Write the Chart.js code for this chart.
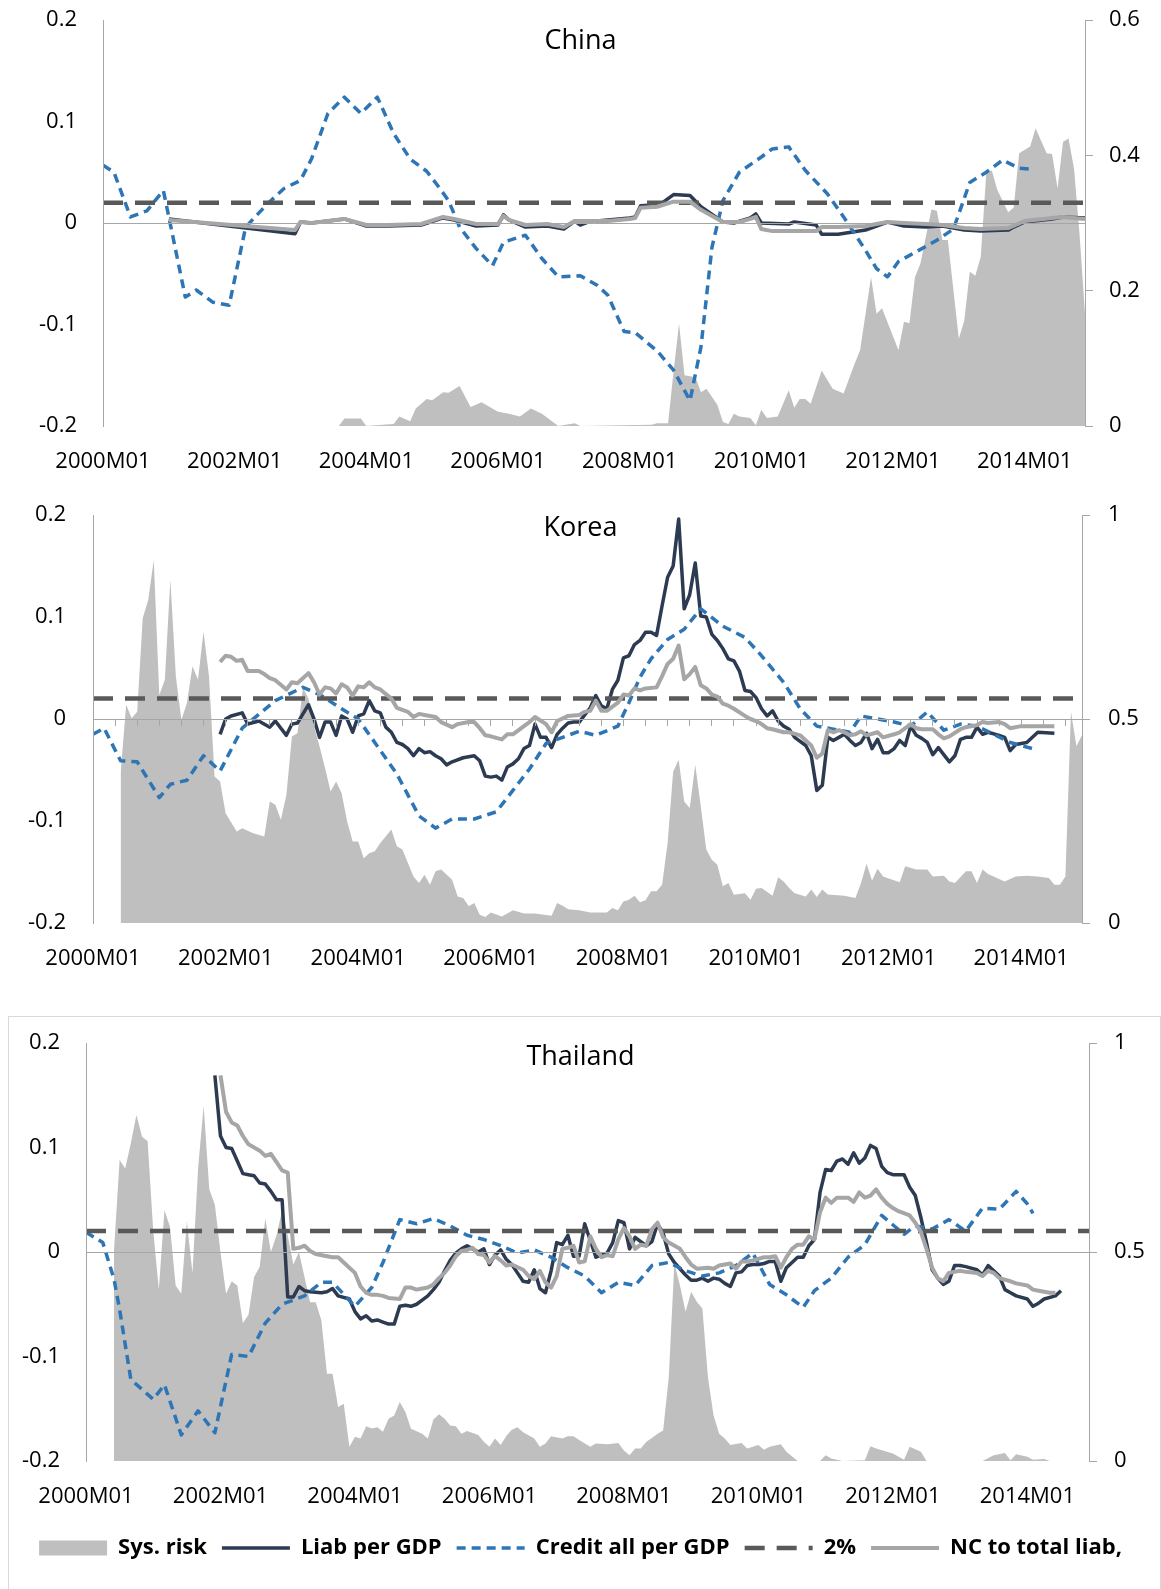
<!DOCTYPE html>
<html>
<head>
<meta charset="utf-8">
<script src="https://cdn.jsdelivr.net/npm/chart.js@4.4.0/dist/chart.umd.min.js"></script>
<style>
body { margin: 0; background: #fff; width: 1161px; height: 1589px; position: relative; overflow: hidden; }
canvas { position: absolute; left: 0; }
#frame { position: absolute; left: 8px; top: 1016px; width: 1151px; height: 600px; border: 1px solid #d9d9d9; }
</style>
</head>
<body>
<div id="frame"></div>
<canvas id="china" width="1161" height="514" style="top:-24px"></canvas>
<canvas id="korea" width="1161" height="529" style="top:471px"></canvas>
<canvas id="thai" width="1161" height="590" style="top:999px"></canvas>
<script>
// month index 0 = 2000M01 ... 179 = 2014M12, pairs are [month, value]
var seriesNames = ["Sys. risk", "Liab per GDP", "Credit all per GDP", "2%", "NC to total liab,"];
var seriesColors = ["#BFBFBF", "#2C3B52", "#2E75B6", "#595959", "#A6A6A6"];
var threshold = [[0, 0.02], [179, 0.02]];

var chinaRisk = [[43,0],[44,0.011],[47,0.011],[48,0],[51,0.002],[53,0.003],[54,0.014],[56,0.007],[57,0.026],[59,0.04],[60,0.038],[62,0.05],[63,0.049],[65,0.059],[67,0.028],[69,0.035],[72,0.021],[74,0.018],[76,0.014],[78,0.026],[80,0.018],[83,0],[86,0.004],[87,0],[100,0.002],[101,0.004],[103,0.004],[104,0.08],[105,0.151],[106,0.075],[108,0.072],[109,0.05],[110,0.055],[112,0.031],[113,0.006],[114,0.003],[115,0.018],[116,0.014],[118,0.012],[119,0.001],[120,0.024],[121,0.012],[123,0.014],[125,0.053],[126,0.027],[127,0.04],[128,0.04],[129,0.033],[131,0.082],[133,0.055],[135,0.048],[137,0.092],[138,0.112],[140,0.22],[141,0.166],[142,0.174],[145,0.112],[146,0.154],[147,0.152],[148,0.22],[149,0.24],[151,0.32],[152,0.318],[153,0.275],[154,0.275],[156,0.129],[157,0.156],[158,0.228],[159,0.222],[160,0.25],[161,0.373],[162,0.378],[163,0.349],[165,0.316],[166,0.323],[167,0.403],[169,0.413],[170,0.44],[172,0.403],[173,0.402],[174,0.351],[175,0.42],[176,0.425],[177,0.38],[178,0.284],[179,0.166]];
var chinaLiab = [[12,0.004],[35,-0.0105],[36,0.001],[38,0],[41,0.002],[44,0.004],[48,-0.003],[52,-0.003],[58,-0.002],[62,0.005],[64,0.003],[68,-0.003],[72,-0.002],[73,0.008],[74,0.003],[77,-0.004],[81,-0.003],[84,-0.006],[86,0.002],[87,-0.002],[89,0.002],[90,0.002],[92,0.003],[96,0.005],[97,0.006],[98,0.017],[101,0.018],[102,0.02],[104,0.028],[107,0.027],[109,0.016],[113,0.001],[115,0],[118,0.005],[119,0.009],[120,0],[125,-0.001],[126,0.001],[130,-0.002],[131,-0.011],[134,-0.011],[139,-0.007],[143,0.001],[146,-0.003],[150,-0.004],[153,-0.003],[157,-0.007],[160,-0.008],[165,-0.007],[166,-0.004],[168,0.001],[173,0.004],[175,0.006],[179,0.005]];
var chinaCredit = [[0,0.057],[2,0.05],[5,0.006],[8,0.012],[11,0.032],[12,0.006],[15,-0.073],[17,-0.066],[20,-0.078],[23,-0.081],[26,-0.004],[30,0.019],[33,0.034],[36,0.042],[38,0.063],[41,0.108],[44,0.124],[47,0.108],[50,0.124],[53,0.088],[56,0.063],[59,0.051],[61,0.037],[63,0.022],[65,-0.004],[68,-0.025],[71,-0.042],[73,-0.019],[77,-0.012],[80,-0.035],[83,-0.053],[87,-0.052],[90,-0.061],[92,-0.071],[95,-0.107],[97,-0.108],[101,-0.126],[104,-0.145],[107,-0.175],[109,-0.122],[111,-0.024],[113,0.022],[116,0.05],[120,0.065],[122,0.073],[125,0.075],[128,0.052],[132,0.029],[135,0.006],[139,-0.027],[141,-0.045],[143,-0.053],[145,-0.038],[148,-0.029],[152,-0.017],[155,-0.006],[156,0.009],[158,0.04],[161,0.05],[164,0.062],[167,0.054],[169,0.053]];
var chinaNC = [[12,0.003],[35,-0.007],[36,0.001],[38,0],[41,0.002],[44,0.004],[48,-0.002],[52,-0.002],[58,-0.001],[62,0.006],[64,0.004],[68,-0.001],[72,-0.001],[73,0.007],[74,0.003],[77,-0.002],[81,-0.001],[84,-0.004],[86,0.002],[89,0.002],[92,0.002],[96,0.004],[97,0.005],[98,0.015],[101,0.016],[104,0.021],[107,0.021],[109,0.013],[113,0.001],[116,0.001],[118,0.004],[119,0.006],[120,-0.006],[122,-0.008],[126,-0.008],[130,-0.008],[131,-0.004],[134,-0.004],[139,-0.003],[143,0.001],[146,0],[150,-0.001],[153,-0.002],[157,-0.005],[160,-0.006],[165,-0.005],[168,0.002],[173,0.005],[175,0.006],[179,0.004]];

var koreaRisk = [[5,0.367],[6,0.535],[7,0.502],[8,0.518],[9,0.747],[10,0.792],[11,0.89],[12,0.559],[13,0.596],[14,0.841],[15,0.604],[16,0.498],[17,0.539],[18,0.629],[19,0.596],[20,0.714],[21,0.604],[22,0.359],[23,0.347],[24,0.269],[26,0.224],[27,0.232],[29,0.22],[31,0.212],[32,0.298],[33,0.29],[34,0.253],[35,0.314],[36,0.457],[37,0.465],[38,0.576],[39,0.55],[40,0.482],[41,0.433],[42,0.38],[43,0.322],[44,0.347],[45,0.318],[46,0.249],[47,0.2],[48,0.2],[49,0.159],[50,0.171],[51,0.176],[52,0.196],[54,0.229],[55,0.188],[56,0.18],[58,0.114],[59,0.098],[60,0.118],[61,0.094],[62,0.127],[63,0.131],[65,0.106],[66,0.065],[67,0.061],[68,0.041],[69,0.049],[70,0.02],[71,0.015],[72,0.026],[74,0.016],[76,0.031],[78,0.023],[80,0.023],[83,0.018],[84,0.049],[85,0.042],[86,0.034],[88,0.031],[90,0.026],[93,0.026],[94,0.037],[95,0.031],[96,0.053],[97,0.057],[98,0.067],[99,0.051],[100,0.056],[101,0.078],[102,0.078],[103,0.094],[104,0.196],[105,0.371],[106,0.4],[107,0.298],[108,0.282],[109,0.388],[110,0.286],[111,0.18],[112,0.155],[113,0.143],[114,0.09],[115,0.098],[116,0.069],[118,0.073],[119,0.057],[120,0.084],[121,0.086],[123,0.067],[124,0.112],[125,0.102],[126,0.086],[127,0.073],[129,0.065],[130,0.082],[131,0.064],[132,0.082],[133,0.07],[136,0.067],[138,0.061],[139,0.098],[140,0.145],[141,0.104],[142,0.133],[143,0.114],[146,0.1],[147,0.139],[149,0.131],[151,0.131],[152,0.114],[154,0.116],[155,0.102],[156,0.098],[158,0.127],[159,0.127],[160,0.098],[161,0.131],[162,0.12],[165,0.102],[167,0.114],[169,0.116],[171,0.114],[173,0.11],[174,0.094],[175,0.094],[176,0.114],[177,0.518],[178,0.433],[179,0.461]];
var koreaLiab = [[23,-0.015],[24,0],[25,0.003],[27,0.006],[28,-0.005],[30,-0.002],[32,-0.008],[33,-0.002],[35,-0.016],[36,-0.005],[37,-0.004],[39,0.014],[40,0],[41,-0.018],[42,-0.003],[43,-0.003],[44,-0.016],[45,0.003],[46,0],[47,-0.013],[48,0.003],[49,0.005],[50,0.018],[51,0.008],[52,0.006],[53,-0.008],[54,-0.013],[55,-0.023],[56,-0.025],[57,-0.029],[58,-0.036],[59,-0.029],[60,-0.033],[61,-0.032],[62,-0.036],[63,-0.039],[64,-0.045],[65,-0.042],[67,-0.038],[69,-0.036],[70,-0.041],[71,-0.056],[72,-0.057],[73,-0.056],[74,-0.06],[75,-0.047],[76,-0.044],[77,-0.039],[78,-0.029],[79,-0.026],[80,-0.005],[81,-0.018],[82,-0.018],[83,-0.028],[84,-0.015],[85,-0.009],[86,-0.004],[87,-0.003],[88,-0.003],[89,0.004],[90,0.011],[91,0.023],[92,0.013],[93,0.01],[94,0.029],[95,0.038],[96,0.06],[97,0.062],[98,0.073],[99,0.077],[100,0.085],[101,0.085],[102,0.082],[103,0.111],[104,0.139],[105,0.15],[106,0.196],[107,0.108],[108,0.122],[109,0.153],[110,0.101],[111,0.1],[112,0.083],[113,0.077],[114,0.069],[115,0.059],[116,0.057],[117,0.047],[118,0.028],[119,0.027],[120,0.021],[121,0.01],[122,0.003],[123,0.008],[124,-0.002],[125,-0.007],[126,-0.01],[127,-0.018],[129,-0.026],[130,-0.036],[131,-0.07],[132,-0.065],[133,-0.018],[134,-0.021],[135,-0.018],[136,-0.015],[137,-0.021],[138,-0.026],[139,-0.023],[140,-0.014],[141,-0.029],[142,-0.02],[143,-0.033],[144,-0.033],[145,-0.029],[146,-0.021],[147,-0.026],[148,-0.007],[149,-0.016],[150,-0.019],[151,-0.023],[152,-0.035],[153,-0.028],[155,-0.042],[156,-0.036],[157,-0.02],[158,-0.018],[159,-0.018],[160,-0.008],[161,-0.015],[162,-0.013],[164,-0.016],[165,-0.018],[166,-0.031],[167,-0.025],[169,-0.023],[171,-0.013],[174,-0.014]];
var koreaCredit = [[0,-0.015],[2,-0.009],[5,-0.041],[8,-0.042],[12,-0.077],[14,-0.064],[17,-0.06],[20,-0.036],[23,-0.051],[27,-0.009],[33,0.018],[38,0.031],[41,0.024],[45,0.01],[48,0],[51,-0.023],[55,-0.054],[59,-0.095],[62,-0.107],[65,-0.098],[69,-0.098],[73,-0.091],[76,-0.07],[79,-0.049],[82,-0.024],[85,-0.018],[88,-0.012],[91,-0.016],[95,-0.007],[97,0.016],[99,0.041],[101,0.059],[104,0.078],[107,0.088],[110,0.108],[114,0.091],[118,0.08],[121,0.062],[125,0.036],[128,0.01],[131,-0.007],[134,-0.01],[137,-0.013],[139,0.003],[142,0],[145,-0.003],[148,-0.007],[151,0.007],[154,-0.011],[157,-0.005],[160,-0.007],[163,-0.015],[166,-0.023],[170,-0.029]];
var koreaNC = [[23,0.056],[24,0.062],[25,0.061],[26,0.057],[27,0.058],[28,0.047],[30,0.047],[31,0.044],[32,0.04],[33,0.038],[35,0.029],[36,0.036],[37,0.035],[39,0.045],[40,0.036],[41,0.024],[42,0.031],[43,0.03],[44,0.025],[45,0.034],[46,0.031],[47,0.023],[48,0.032],[49,0.031],[50,0.036],[51,0.031],[52,0.029],[54,0.02],[55,0.011],[57,0.007],[58,0.002],[59,0.005],[60,0.004],[62,0.002],[63,-0.003],[65,-0.008],[66,-0.005],[68,-0.003],[69,-0.003],[70,-0.009],[71,-0.016],[72,-0.017],[74,-0.02],[75,-0.015],[76,-0.015],[78,-0.007],[79,-0.003],[80,0.002],[82,-0.005],[83,-0.013],[84,-0.002],[86,0.003],[88,0.004],[89,0.007],[90,0.008],[91,0.018],[92,0.008],[93,0.008],[95,0.016],[96,0.024],[97,0.023],[98,0.03],[99,0.028],[100,0.03],[102,0.031],[103,0.042],[104,0.054],[105,0.059],[106,0.072],[107,0.039],[108,0.044],[109,0.051],[110,0.033],[111,0.03],[112,0.024],[113,0.022],[114,0.015],[115,0.013],[116,0.01],[118,0.003],[119,0],[120,-0.002],[121,-0.005],[122,-0.009],[123,-0.01],[125,-0.013],[126,-0.013],[128,-0.016],[129,-0.021],[130,-0.026],[131,-0.038],[132,-0.034],[133,-0.011],[134,-0.013],[135,-0.011],[136,-0.013],[137,-0.016],[138,-0.015],[139,-0.012],[140,-0.016],[142,-0.013],[143,-0.018],[145,-0.015],[146,-0.013],[148,-0.005],[149,-0.009],[150,-0.01],[152,-0.01],[153,-0.015],[154,-0.019],[155,-0.017],[157,-0.01],[158,-0.008],[160,-0.006],[161,-0.003],[162,-0.004],[164,-0.003],[165,-0.005],[166,-0.009],[168,-0.007],[174,-0.007]];

var thaiRisk = [[5,0.505],[6,0.72],[7,0.7],[8,0.76],[9,0.828],[10,0.776],[11,0.765],[12,0.55],[13,0.41],[14,0.6],[15,0.56],[16,0.42],[17,0.4],[18,0.573],[19,0.45],[20,0.7],[21,0.85],[22,0.65],[23,0.613],[24,0.5],[25,0.4],[26,0.43],[27,0.42],[28,0.33],[29,0.35],[30,0.44],[31,0.465],[32,0.58],[33,0.5],[34,0.54],[35,0.6],[36,0.54],[37,0.47],[38,0.5],[39,0.44],[40,0.38],[41,0.38],[42,0.337],[43,0.209],[44,0.209],[45,0.129],[46,0.137],[47,0.034],[48,0.058],[49,0.054],[50,0.083],[51,0.078],[52,0.081],[53,0.07],[54,0.101],[55,0.109],[56,0.141],[57,0.117],[58,0.077],[60,0.065],[61,0.054],[62,0.099],[63,0.112],[64,0.101],[65,0.085],[66,0.083],[67,0.065],[68,0.072],[70,0.062],[71,0.046],[72,0.034],[73,0.054],[74,0.038],[75,0.06],[76,0.075],[77,0.081],[78,0.069],[80,0.054],[81,0.034],[82,0.042],[83,0.059],[85,0.054],[86,0.059],[87,0.059],[88,0.05],[90,0.034],[91,0.042],[93,0.04],[95,0.043],[96,0.025],[97,0.014],[98,0.03],[99,0.03],[100,0.046],[101,0.055],[102,0.065],[103,0.073],[104,0.2],[105,0.473],[106,0.42],[107,0.357],[108,0.405],[109,0.381],[110,0.365],[111,0.2],[112,0.109],[113,0.065],[114,0.054],[115,0.038],[117,0.043],[118,0.03],[120,0.038],[121,0.027],[122,0.034],[124,0.04],[125,0.022],[127,0],[131,0],[132,0.014],[133,0.006],[135,0],[139,0.002],[140,0.035],[141,0.03],[144,0.018],[146,0.003],[147,0.034],[149,0.022],[150,0],[160,0],[162,0.014],[164,0.019],[165,0.002],[166,0.016],[168,0.01],[169,0.003],[171,0.005],[172,0]];
var thaiLiab = [[23,0.169],[24,0.111],[25,0.1],[26,0.099],[27,0.087],[28,0.075],[29,0.074],[30,0.073],[31,0.066],[32,0.065],[33,0.058],[34,0.05],[35,0.05],[36,-0.043],[37,-0.043],[38,-0.033],[39,-0.037],[40,-0.038],[42,-0.039],[43,-0.038],[44,-0.035],[45,-0.042],[47,-0.045],[48,-0.057],[49,-0.064],[50,-0.061],[51,-0.066],[52,-0.065],[53,-0.067],[54,-0.069],[55,-0.069],[56,-0.052],[57,-0.051],[58,-0.052],[59,-0.05],[60,-0.046],[61,-0.042],[62,-0.036],[63,-0.029],[64,-0.018],[65,-0.008],[66,-0.001],[67,0.003],[68,0.006],[69,0.003],[70,0],[71,0.003],[72,-0.012],[73,-0.003],[74,0.002],[75,-0.007],[76,-0.012],[77,-0.02],[78,-0.028],[79,-0.029],[80,-0.017],[81,-0.035],[82,-0.039],[83,-0.018],[84,0.009],[85,0.007],[86,0.016],[87,-0.004],[88,-0.004],[89,0.027],[90,0.011],[91,-0.005],[92,-0.003],[93,-0.001],[94,0.009],[95,0.03],[96,0.028],[97,0.003],[98,0.014],[99,0.01],[100,0.006],[101,0.01],[102,0.027],[103,0.018],[104,-0.002],[105,-0.01],[106,-0.016],[107,-0.022],[108,-0.027],[109,-0.027],[110,-0.025],[111,-0.028],[112,-0.025],[113,-0.026],[114,-0.03],[115,-0.033],[116,-0.02],[117,-0.019],[118,-0.013],[119,-0.012],[120,-0.012],[121,-0.011],[122,-0.009],[123,-0.009],[124,-0.028],[125,-0.015],[126,-0.01],[127,-0.005],[128,-0.005],[129,0.006],[130,0.012],[131,0.057],[132,0.079],[133,0.078],[134,0.087],[135,0.089],[136,0.084],[137,0.095],[138,0.085],[139,0.09],[140,0.102],[141,0.099],[142,0.082],[143,0.076],[144,0.074],[146,0.074],[147,0.062],[148,0.054],[149,0.033],[150,0.009],[151,-0.017],[152,-0.025],[153,-0.031],[154,-0.028],[155,-0.013],[156,-0.013],[157,-0.014],[159,-0.017],[160,-0.022],[161,-0.013],[162,-0.018],[163,-0.023],[164,-0.036],[165,-0.039],[166,-0.042],[168,-0.045],[169,-0.052],[170,-0.049],[171,-0.045],[173,-0.042],[174,-0.037]];
var thaiCredit = [[0,0.019],[3,0.009],[5,-0.026],[6,-0.055],[8,-0.122],[12,-0.141],[14,-0.127],[17,-0.175],[20,-0.152],[23,-0.173],[26,-0.098],[29,-0.1],[32,-0.068],[35,-0.05],[39,-0.042],[42,-0.029],[44,-0.029],[48,-0.052],[51,-0.034],[53,-0.01],[56,0.031],[59,0.027],[62,0.032],[65,0.025],[68,0.016],[71,0.012],[74,0.006],[77,-0.001],[80,0.002],[83,-0.005],[86,-0.015],[89,-0.023],[92,-0.039],[95,-0.029],[98,-0.032],[101,-0.013],[104,-0.01],[107,-0.018],[110,-0.023],[113,-0.02],[116,-0.013],[119,-0.001],[122,-0.031],[125,-0.041],[128,-0.053],[130,-0.037],[133,-0.025],[136,-0.005],[139,0.007],[142,0.035],[146,0.017],[148,0.025],[151,0.022],[154,0.031],[157,0.02],[160,0.042],[163,0.041],[166,0.058],[168,0.046],[169,0.037]];
var thaiNC = [[24,0.169],[25,0.134],[26,0.124],[27,0.121],[28,0.111],[29,0.103],[30,0.1],[31,0.097],[32,0.092],[33,0.094],[34,0.086],[35,0.078],[36,0.076],[37,0.003],[38,0.004],[39,0.006],[40,0.001],[41,-0.002],[43,-0.004],[44,-0.005],[45,-0.005],[46,-0.01],[47,-0.015],[48,-0.02],[49,-0.033],[50,-0.039],[51,-0.041],[52,-0.041],[53,-0.042],[54,-0.044],[56,-0.045],[57,-0.034],[58,-0.034],[59,-0.036],[60,-0.035],[61,-0.034],[62,-0.031],[63,-0.025],[64,-0.02],[65,-0.013],[66,-0.004],[67,0.001],[68,0.002],[69,0.004],[70,-0.002],[71,-0.003],[72,-0.01],[73,-0.004],[74,-0.008],[75,-0.013],[76,-0.012],[78,-0.017],[79,-0.023],[80,-0.026],[81,-0.018],[82,-0.029],[83,-0.034],[84,-0.023],[85,0.003],[86,0.004],[87,0.006],[88,-0.01],[89,-0.009],[90,0.015],[91,0.003],[92,-0.005],[93,-0.003],[94,-0.004],[95,0.012],[96,0.023],[97,0.015],[98,0.003],[99,0.007],[100,0.006],[101,0.022],[102,0.028],[103,0.014],[104,0.009],[106,0.003],[107,-0.005],[108,-0.012],[109,-0.016],[111,-0.015],[112,-0.016],[113,-0.013],[115,-0.011],[116,-0.016],[117,-0.009],[118,-0.009],[119,-0.008],[121,-0.005],[122,-0.005],[123,-0.004],[124,-0.015],[125,-0.005],[126,0.003],[127,0.007],[128,0.007],[129,0.015],[130,0.012],[131,0.038],[132,0.052],[133,0.047],[134,0.052],[136,0.052],[137,0.048],[138,0.057],[139,0.052],[140,0.054],[141,0.06],[142,0.052],[143,0.046],[144,0.042],[145,0.039],[147,0.035],[148,0.028],[149,0.019],[150,0.003],[151,-0.015],[152,-0.025],[153,-0.028],[154,-0.02],[156,-0.018],[157,-0.019],[159,-0.02],[160,-0.023],[161,-0.018],[162,-0.02],[163,-0.025],[165,-0.028],[166,-0.03],[168,-0.032],[169,-0.036],[170,-0.037],[172,-0.039],[173,-0.039]];

Chart.defaults.font.family = "'Open Sans', sans-serif";
Chart.defaults.color = "#000";

function monthLabel(i) {
   var m = i % 12 + 1;
   return (2000 + Math.floor(i / 12)) + "M" + (m < 10 ? "0" + m : m);
}

function pts(a) {
   return a.map(function (p) { return { x: p[0], y: p[1] }; });
}

function shortNum(v) {
   return String(Math.round(v * 10) / 10);
}

function lineSet(i, data, width, dash, order) {
   return {
      label: seriesNames[i],
      data: pts(data),
      xAxisID: "x",
      yAxisID: "y",
      borderColor: seriesColors[i],
      backgroundColor: seriesColors[i],
      borderWidth: width,
      borderDash: dash,
      borderJoinStyle: "round",
      pointRadius: 0,
      pointHoverRadius: 0,
      pointStyle: "line",
      fill: false,
      tension: 0,
      order: order
   };
}

function makeChart(id, title, risk, liab, credit, nc, box) {
   var scales = {
      x: {
         type: "linear", min: 0, max: 179,
         grid: { display: false, drawTicks: false }, border: { display: false },
         ticks: {
            stepSize: 24, includeBounds: false, autoSkip: false, maxRotation: 0,
            padding: box.xPad, font: { size: 22 },
            callback: function (v) { return v % 24 === 0 ? monthLabel(v) : ""; }
         },
         afterFit: function (s) { s.height = box.xHeight; }
      },
      y: {
         position: "left", min: -0.2, max: 0.2,
         ticks: { stepSize: 0.1, padding: box.yPad, font: { size: 22 }, callback: shortNum },
         grid: {
            z: 1, drawTicks: false,
            color: function (c) { return c.tick && c.tick.value === 0 ? "#A6A6A6" : "rgba(0,0,0,0)"; }
         },
         border: { display: true, z: 1, color: "#A6A6A6" },
         afterFit: function (s) { s.width = box.left; }
      },
      y1: {
         position: "right", min: 0, max: box.riskMax,
         ticks: { stepSize: box.riskStep, padding: box.y1Pad, font: { size: 22 }, callback: shortNum },
         grid: { drawOnChartArea: false, drawTicks: true, tickLength: 8, color: "#A6A6A6" },
         border: { display: true, color: "#A6A6A6" },
         afterFit: function (s) { s.width = 1161 - box.right; }
      }
   };
   if (box.zeroTicks) {
      // small tick marks along the zero line (Korea panel)
      scales.xt = {
         type: "linear", axis: "x", position: { y: 0 }, min: 0, max: 179,
         ticks: { display: false, stepSize: 4, includeBounds: false },
         grid: { z: 1, drawOnChartArea: false, drawTicks: true, tickLength: 7, color: "#A6A6A6" },
         border: { display: false }
      };
   }

   return new Chart(id, {
      type: "line",
      data: {
         datasets: [
            {
               label: seriesNames[0], data: pts(risk), xAxisID: "x", yAxisID: "y1",
               fill: "origin", backgroundColor: seriesColors[0], borderColor: seriesColors[0],
               borderWidth: 0, pointRadius: 0, pointHoverRadius: 0, pointStyle: "rect", tension: 0, order: 9
            },
            lineSet(1, liab, 3.5, [], 4),
            lineSet(2, credit, 3.5, [9, 6], 3),
            lineSet(3, threshold, 4.5, [20, 12], 2),
            lineSet(4, nc, 4, [], 1)
         ]
      },
      options: {
         responsive: false,
         animation: false,
         layout: { autoPadding: false, padding: { top: 0, left: 0, right: 0, bottom: box.bottomPad } },
         plugins: {
            tooltip: { enabled: false },
            title: {
               display: true, text: title, color: "#000",
               font: { size: 27, weight: "normal" },
               padding: { top: box.titleTop, bottom: box.titleBottom }
            },
            legend: {
               display: box.legend, position: "bottom",
               labels: {
                  usePointStyle: true, pointStyleWidth: 68, boxHeight: 15, padding: 15,
                  font: { size: 22, weight: "bold" },
                  sort: function (a, b) { return a.datasetIndex - b.datasetIndex; },
                  generateLabels: function (chart) {
                     var items = Chart.defaults.plugins.legend.labels.generateLabels(chart);
                     items.forEach(function (it) {
                        it.lineDash = chart.data.datasets[it.datasetIndex].borderDash || [];
                     });
                     return items;
                  }
               }
            }
         },
         scales: scales
      }
   });
}

makeChart("china", "China", chinaRisk, chinaLiab, chinaCredit, chinaNC, {
   left: 103, right: 1085, riskMax: 0.6, riskStep: 0.2, yPad: 26, y1Pad: 16,
   xPad: 23, xHeight: 64, bottomPad: 0, titleTop: 49.5, titleBottom: -37.9, legend: false, zeroTicks: false
});
makeChart("korea", "Korea", koreaRisk, koreaLiab, koreaCredit, koreaNC, {
   left: 93, right: 1082, riskMax: 1, riskStep: 0.5, yPad: 27, y1Pad: 18,
   xPad: 23, xHeight: 77, bottomPad: 0, titleTop: 40.8, titleBottom: -29.2, legend: false, zeroTicks: true
});
makeChart("thai", "Thailand", thaiRisk, thaiLiab, thaiCredit, thaiNC, {
   left: 86, right: 1089, riskMax: 1, riskStep: 0.5, yPad: 26, y1Pad: 17,
   xPad: 23, xHeight: 61, bottomPad: 20, titleTop: 41.8, titleBottom: -30.2, legend: true, zeroTicks: false
});
</script>
</body>
</html>
